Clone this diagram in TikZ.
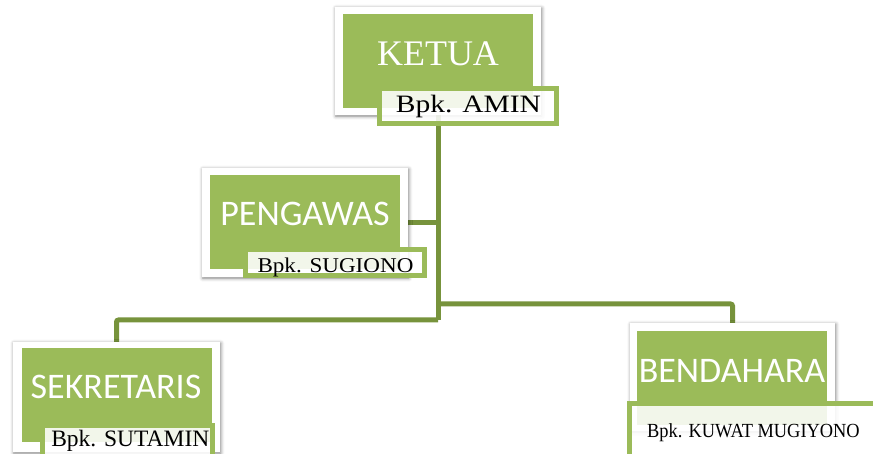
\documentclass[tikz,border=0pt]{standalone}
\usepackage{graphicx}
\usepackage{fontspec}
\setmainfont{Liberation Serif}
\newfontfamily\calfont{Carlito}
\usetikzlibrary{shadows.blur}
\definecolor{olivegreen}{HTML}{9BBB59}
\definecolor{darkolive}{HTML}{77933C}
\pgfdeclarelayer{bg}
\pgfsetlayers{bg,main}
\begin{document}
\begin{tikzpicture}[x=1pt,y=-1pt,
  framebox/.style={draw=none, fill=white, inner sep=0pt,
    blur shadow={shadow xshift=0.8pt, shadow yshift=-1.2pt, shadow blur radius=3.5pt, shadow opacity=50}},
  gbox/.style={fill=olivegreen, draw=none, inner sep=0pt, minimum width=190pt, minimum height=94pt},
  labbox/.style={draw=olivegreen, line width=5.5pt, fill=white, fill opacity=0.88, inner sep=0pt},
  titlesans/.style={text=white, font=\calfont\fontsize{36}{36}\selectfont, inner sep=0pt, anchor=base},
  titleserif/.style={text=white, font=\fontsize{36}{36}\selectfont, inner sep=0pt, anchor=base},
  labtext/.style={text=black, inner sep=0pt, anchor=base},
  conn/.style={draw=darkolive, line width=5pt, rounded corners=2pt}
]
\useasboundingbox (0,0) rectangle (873,454);
\clip (0,0) rectangle (873,454);

% KETUA
\node[framebox, minimum width=206pt, minimum height=108pt] (ketuaF) at (438,61) {};
\node[gbox] (ketuaG) at (438,61) {};
\node[titleserif] (ketuaT) at (438,66) {KETUA};
\node[labbox, minimum width=177pt, minimum height=35pt] (ketuaL) at (468,106) {};
\node[labtext, font=\fontsize{25}{25}\selectfont] (ketuaN) at (468.5,113) {\scalebox{1.18}[1]{Bpk. AMIN}};

% PENGAWAS
\node[framebox, minimum width=206pt, minimum height=109pt] (pengF) at (305,222.5) {};
\node[gbox] (pengG) at (305,222) {};
\node[titlesans] (pengT) at (305,226) {PENGAWAS};
\node[labbox, minimum width=179pt, minimum height=26pt] (pengL) at (335,262.5) {};
\node[labtext, font=\fontsize{21}{21}\selectfont] (pengN) at (335.5,273) {\scalebox{1.1}[1]{Bpk. SUGIONO}};

% SEKRETARIS
\node[framebox, minimum width=207pt, minimum height=110pt] (sekF) at (116.5,397) {};
\node[gbox] (sekG) at (117,395) {};
\node[titlesans] (sekT) at (116,399) {SEKRETARIS};
\node[labbox, minimum width=170pt, minimum height=37pt] (sekL) at (127.5,444) {};
\node[labtext, font=\fontsize{23.5}{23.5}\selectfont] (sekN) at (130.3,446) {Bpk. SUTAMIN};

% BENDAHARA
\node[framebox, minimum width=205pt, minimum height=108pt] (bendF) at (732.5,377) {};
\node[gbox] (bendG) at (732,378) {};
\node[titlesans] (bendT) at (732,382) {BENDAHARA};
\node[labbox, minimum width=255pt, minimum height=61pt] (bendL) at (757,434) {};
\node[labtext, font=\fontsize{20}{20}\selectfont] (bendN) at (753.5,437.3) {\scalebox{0.92}[1]{Bpk. KUWAT MUGIYONO}};

% connectors
\coordinate (j1) at (438,320);
\coordinate (j2) at (438,304);
\begin{pgfonlayer}{bg}
\draw[conn] (ketuaF.south) -- (j1);
\draw[conn] (pengF.east) -- (pengF.east -| j1);
\draw[conn] (j1) -| (sekF.north);
\draw[conn] (j2) -| (bendF.north);
\end{pgfonlayer}
\end{tikzpicture}
\end{document}
